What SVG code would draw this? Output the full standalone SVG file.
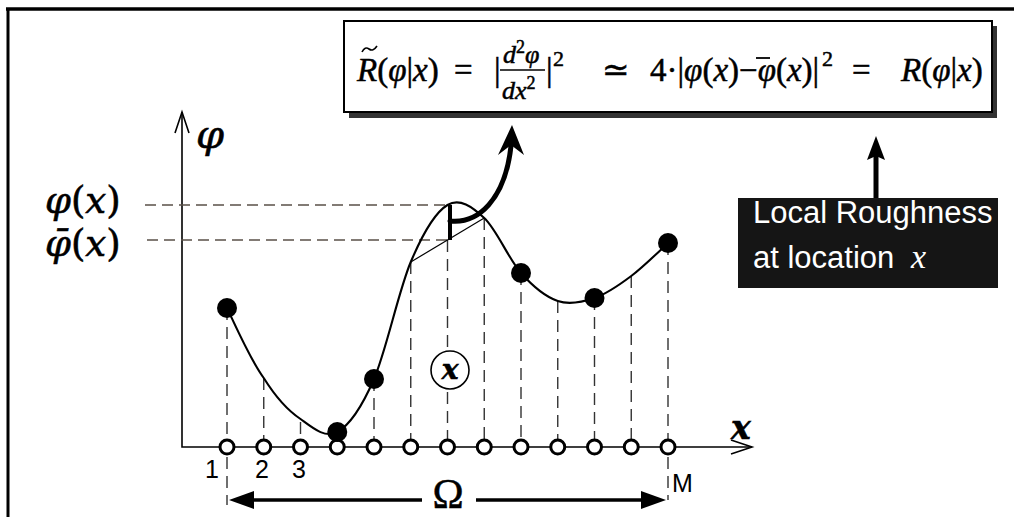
<svg xmlns="http://www.w3.org/2000/svg" width="1014" height="517" viewBox="0 0 1014 517">
<defs>
<style>
.serif{font-family:"Liberation Serif","DejaVu Serif",serif;fill:#000;stroke:#000;stroke-width:0.5}
.cm{font-family:"DejaVu Serif","Liberation Serif",serif;fill:#000;stroke:#000;stroke-width:0.6}
.sans{font-family:"Liberation Sans",Arial,sans-serif}
.it{font-style:italic}
.dash{stroke:#333;stroke-width:1.4;stroke-dasharray:12 7;fill:none}
.hdash{stroke:#5a5048;stroke-width:1.4;stroke-dasharray:11 6;fill:none}
.open{fill:#fff;stroke:#000;stroke-width:3}
.dot{fill:#000}
.axis{stroke:#000;stroke-width:1.6;fill:none}
</style>
</defs>
<rect width="1014" height="517" fill="#fff"/>
<g id="frame">
<line x1="6" y1="9" x2="1014" y2="9" stroke="#000" stroke-width="3.5"/>
<line x1="8" y1="9" x2="8" y2="517" stroke="#000" stroke-width="3"/>
</g>
<g id="axes">
<polyline class="axis" points="182,112 182,447 752,447"/>
<polyline class="axis" points="175,133 182,112 189,133"/>
<polyline class="axis" points="731,440 752,447 731,454"/>
<text class="cm it" x="196" y="148" font-size="40" stroke-width="1">φ</text>
<text class="cm it" x="731" y="439" font-size="33" font-weight="bold" stroke-width="0">x</text>
</g>
<g id="guides">
<line class="hdash" x1="145" y1="205" x2="447" y2="205"/>
<line class="hdash" x1="147" y1="240" x2="447" y2="240"/>
<text class="cm" x="45" y="213" font-size="37"><tspan class="it">φ</tspan>(<tspan class="it">x</tspan>)</text>
<text class="cm" x="45" y="256" font-size="37"><tspan class="it">φ̄</tspan>(<tspan class="it">x</tspan>)</text>
<line class="dash" x1="227" y1="308" x2="227" y2="440"/>
<line class="dash" x1="263.75" y1="378" x2="263.75" y2="440"/>
<line class="dash" x1="300.5" y1="422" x2="300.5" y2="440"/>
<line class="dash" x1="374" y1="379" x2="374" y2="440"/>
<line class="dash" x1="410.75" y1="262" x2="410.75" y2="440"/>
<line class="dash" x1="447.5" y1="240" x2="447.5" y2="440"/>
<line class="dash" x1="484.25" y1="218" x2="484.25" y2="440"/>
<line class="dash" x1="521" y1="273" x2="521" y2="440"/>
<line class="dash" x1="557.75" y1="301" x2="557.75" y2="440"/>
<line class="dash" x1="594.5" y1="298" x2="594.5" y2="440"/>
<line class="dash" x1="631.25" y1="276" x2="631.25" y2="440"/>
<line class="dash" x1="668" y1="243" x2="668" y2="440"/>
<line class="dash" x1="227" y1="457" x2="227" y2="505"/>
<line class="dash" x1="668" y1="457" x2="668" y2="500"/>
</g>
<g id="curve">
<path d="M227,308 C232.8,319.7 250.2,359.7 263.75,378 C275,396 287,410 300.5,419 C312.75,428 325,438.7 337.25,432 C349.5,425.3 361.75,407.3 374,379 C386.25,350.7 398.5,291 410.75,262 C423,233 435.25,212.3 447.5,205 C459.75,197.7 472,206.7 484.25,218 C496.5,229.3 508.75,259.2 521,273 C533.25,286.8 545.5,296.8 557.75,301 C570,305.2 582.25,302.2 594.5,298 C606.75,293.8 619,285.2 631.25,276 C643.5,266.8 662,248.5 668,243" fill="none" stroke="#000" stroke-width="2.1"/>
<line x1="410.75" y1="262" x2="484.25" y2="218" stroke="#000" stroke-width="1.2"/>
</g>
<g id="samples">
<circle class="open" cx="227" cy="447" r="7"/>
<circle class="open" cx="263.75" cy="447" r="7"/>
<circle class="open" cx="300.5" cy="447" r="7"/>
<circle class="open" cx="337.25" cy="447" r="7"/>
<circle class="open" cx="374" cy="447" r="7"/>
<circle class="open" cx="410.75" cy="447" r="7"/>
<circle class="open" cx="447.5" cy="447" r="7"/>
<circle class="open" cx="484.25" cy="447" r="7"/>
<circle class="open" cx="521" cy="447" r="7"/>
<circle class="open" cx="557.75" cy="447" r="7"/>
<circle class="open" cx="594.5" cy="447" r="7"/>
<circle class="open" cx="631.25" cy="447" r="7"/>
<circle class="open" cx="668" cy="447" r="7"/>
<circle class="dot" cx="227" cy="308" r="10"/>
<circle class="dot" cx="337.25" cy="432" r="10"/>
<circle class="dot" cx="374" cy="379" r="10"/>
<circle class="dot" cx="521" cy="273" r="10"/>
<circle class="dot" cx="594.5" cy="298" r="10"/>
<circle class="dot" cx="668" cy="243" r="10"/>
<text class="sans" x="205" y="478" font-size="25">1</text>
<text class="sans" x="255" y="478" font-size="25">2</text>
<text class="sans" x="292" y="478" font-size="25">3</text>
<text class="sans" x="672" y="492" font-size="25">M</text>
</g>
<g id="location-x">
<circle cx="450" cy="370" r="19" fill="#fff" stroke="#000" stroke-width="1.6"/>
<text class="cm it" x="450" y="379" font-size="28" font-weight="bold" stroke-width="0" text-anchor="middle">x</text>
</g>
<g id="domain">
<line x1="250" y1="500" x2="422" y2="500" stroke="#000" stroke-width="3.5"/>
<line x1="476" y1="500" x2="645" y2="500" stroke="#000" stroke-width="3.5"/>
<polygon points="229,500 254,491 254,509" fill="#000"/>
<polygon points="666,500 641,491 641,509" fill="#000"/>
<text class="serif" x="448" y="508" font-size="42" text-anchor="middle" stroke-width="0.8">Ω</text>
</g>
<g id="formula-box">
<rect x="349" y="26" width="648" height="92" fill="#333"/>
<rect x="344" y="21" width="648" height="91" fill="#fff" stroke="#000" stroke-width="2"/>
<path d="M362,52 Q365,46 369,49 Q373,52 377,46" fill="none" stroke="#000" stroke-width="1.6"/>
<text class="serif" x="357" y="81" font-size="33"><tspan class="it">R</tspan>(<tspan class="it">φ</tspan>|<tspan class="it">x</tspan>)</text>
<text class="serif" x="454" y="81" font-size="33">=</text>
<text class="serif" x="494" y="81" font-size="33">|</text>
<text class="serif" x="503" y="63" font-size="26"><tspan class="it">d</tspan><tspan font-size="18" dy="-10">2</tspan><tspan class="it" dy="10">φ</tspan></text>
<line x1="500" y1="70" x2="545" y2="70" stroke="#000" stroke-width="1.6"/>
<text class="serif" x="502" y="99" font-size="26"><tspan class="it">dx</tspan><tspan font-size="18" dy="-10">2</tspan></text>
<text class="serif" x="546" y="81" font-size="33">|</text>
<text class="serif" x="553" y="66" font-size="22">2</text>
<text class="serif" x="602" y="81" font-size="33">≃</text>
<text class="serif" x="650" y="81" font-size="33">4·|<tspan class="it">φ</tspan>(<tspan class="it">x</tspan>)−<tspan class="it">φ</tspan>(<tspan class="it">x</tspan>)|</text>
<line x1="756" y1="58" x2="770" y2="58" stroke="#000" stroke-width="1.8"/>
<text class="serif" x="822" y="66" font-size="22">2</text>
<text class="serif" x="852" y="81" font-size="33">=</text>
<text class="serif" x="901" y="81" font-size="33"><tspan class="it">R</tspan>(<tspan class="it">φ</tspan>|<tspan class="it">x</tspan>)</text>
</g>
<g id="callout">
<rect x="738" y="198" width="260" height="90" fill="#151515"/>
<text class="sans" x="753" y="223" font-size="31" fill="#fff">Local Roughness</text>
<text class="sans" x="753" y="268" font-size="31" fill="#fff">at location <tspan font-family="Liberation Serif, serif" font-style="italic" font-size="34" dx="8">x</tspan></text>
</g>
<g id="connectors">
<line x1="450" y1="205" x2="450" y2="240" stroke="#000" stroke-width="4"/>
<path d="M450,221 C478,224 505,200 511,146" fill="none" stroke="#000" stroke-width="5" stroke-linecap="round"/>
<path d="M512,125 L524,155 L511,145 L498,155 Z" fill="#000"/>
<line x1="876" y1="198" x2="876" y2="155" stroke="#000" stroke-width="5"/>
<path d="M876,136 L885,160 L876,156 L867,160 Z" fill="#000"/>
</g>
</svg>
